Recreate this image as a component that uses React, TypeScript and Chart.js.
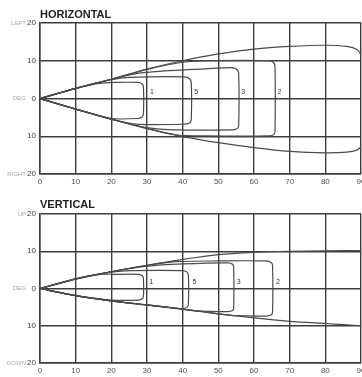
import React, { useEffect, useRef } from "react";
import { Chart, registerables } from "chart.js";

Chart.register(...registerables);

// ---------- data ----------
const X_TICKS = [0, 10, 20, 30, 40, 50, 60, 70, 80, 90];
const Y_TICKS = [-20, -10, 0, 10, 20];
const LOBE_NAMES = ["1", "5", "3", "2"];

const H_PREFIX: Record<string, string> = { "20": "LEFT", "0": "DEG", "-20": "RIGHT" };
const V_PREFIX: Record<string, string> = { "20": "UP", "0": "DEG", "-20": "DOWN" };

// HORIZONTAL panel curves ([deg distance, deg angle])
const H_OUTER_UP = [[0, 0], [10, 2.7], [20, 5.1], [30, 7.8], [40, 10], [50, 11.8], [60, 13.1], [70, 13.8], [80, 14.1], [86, 13.8], [89, 12.9], [90, 11.5]];
const H_OUTER_LO = [[0, 0], [10, -2.8], [20, -5.5], [30, -8], [40, -10.1], [50, -11.7], [60, -13], [70, -14], [80, -14.4], [86, -14.2], [89, -13.6], [90, -12.8]];
const H_LOBE1 = [[0, 0], [10, 2.6], [16, 3.9], [21, 4.25], [27.3, 4.25], [28.6, 3.9], [29, 3], [29, -3.9], [28.6, -4.9], [27.3, -5.3], [20, -5.3], [10, -2.8], [0, 0]];
const H_LOBE5 = [[0, 0], [10, 2.7], [20, 5.0], [25, 5.6], [40.5, 5.75], [41.9, 5.3], [42.4, 4.3], [42.4, -5.6], [41.9, -6.5], [40.5, -6.8], [27, -6.8], [20, -5.4], [10, -2.8], [0, 0]];
const H_LOBE3 = [[0, 0], [10, 2.7], [20, 5.1], [27, 6.6], [35, 7.3], [45, 7.8], [53.8, 8.2], [55.2, 7.7], [55.7, 6.7], [55.7, -7.3], [55.2, -8], [53.8, -8.3], [38, -8.3], [30, -7.7], [20, -5.5], [10, -2.8], [0, 0]];
const H_LOBE2 = [[0, 0], [10, 2.7], [20, 5.1], [30, 7.7], [40, 9.6], [47, 10], [64.3, 10], [65.6, 9.4], [65.9, 8.3], [65.9, -8.6], [65.6, -9.5], [64.3, -9.9], [46, -9.9], [38, -9.6], [30, -7.9], [20, -5.5], [10, -2.8], [0, 0]];
const H_LABEL_X = [31.4, 43.8, 57, 67.1];
const H_LABEL_Y = [1.6, 1.6, 1.6, 1.6];

// VERTICAL panel curves
const V_OUTER_UP = [[0, 0], [10, 2.6], [20, 4.5], [30, 6.2], [40, 7.8], [50, 9.1], [60, 9.7], [70, 10], [80, 10.1], [90, 10.2]];
const V_OUTER_LO = [[0, 0], [10, -1.9], [20, -3.3], [30, -4.4], [40, -5.5], [50, -6.8], [60, -7.9], [70, -8.8], [80, -9.4], [90, -10]];
const V_LOBE1 = [[0, 0], [10, 2.5], [17, 3.8], [21, 3.8], [27.6, 3.8], [28.7, 3.4], [29, 2.7], [29, -2], [28.7, -2.7], [27.6, -3.1], [20, -3.1], [10, -1.9], [0, 0]];
const V_LOBE5 = [[0, 0], [10, 2.6], [20, 4.4], [26, 4.8], [40, 4.8], [41.2, 4.4], [41.6, 3.6], [41.6, -4.3], [41.2, -5.0], [40, -5.4], [30, -4.5], [20, -3.3], [10, -1.9], [0, 0]];
const V_LOBE3 = [[0, 0], [10, 2.6], [20, 4.5], [30, 6], [40, 6.6], [52.8, 6.9], [54, 6.5], [54.3, 5.7], [54.3, -5.3], [54, -5.9], [52.8, -6.2], [45, -6.1], [40, -5.6], [30, -4.4], [20, -3.3], [10, -1.9], [0, 0]];
const V_LOBE2 = [[0, 0], [10, 2.6], [20, 4.5], [30, 6.2], [38, 7.2], [50, 7.4], [63.3, 7.4], [64.8, 7], [65.2, 6.2], [65.2, -6.4], [64.8, -7.1], [63.3, -7.4], [55, -7.3], [50, -6.8], [40, -5.5], [30, -4.4], [20, -3.3], [10, -1.9], [0, 0]];
const V_LABEL_X = [31.2, 43.3, 55.7, 66.7];
const V_LABEL_Y = [1.6, 1.6, 1.6, 1.6];

// ---------- styling ----------
const FONT = '"Liberation Sans", Arial, sans-serif';
const GRID = "#3c3c3c";
const CURVE = "#4a4a4a";

type PanelProps = {
  title: string;
  curves: number[][][];
  labelX: number[];
  labelY: number[];
  prefixes: Record<string, string>;
  width: number;
  height: number;
  padTop: number;
  titleY: number;
};

function Panel({ title, curves, labelX, labelY, prefixes, width, height, padTop, titleY }: PanelProps) {
  const ref = useRef<HTMLCanvasElement | null>(null);

  useEffect(() => {
    if (!ref.current) return;
    const overlay = {
      id: "overlay",
      afterDraw(chart: any) {
        const { ctx } = chart;
        const xs = chart.scales.x;
        const ys = chart.scales.y;
        ctx.save();
        ctx.fillStyle = "#1e1e1e";
        ctx.font = `bold 11px ${FONT}`;
        ctx.textAlign = "left";
        ctx.textBaseline = "alphabetic";
        ctx.fillText(title, 40, titleY);

        ctx.font = `6px ${FONT}`;
        ctx.fillStyle = "#a8a8a8";
        ctx.textAlign = "right";
        ctx.textBaseline = "middle";
        Object.keys(prefixes).forEach((k) => {
          ctx.fillText(prefixes[k], 26, ys.getPixelForValue(Number(k)));
        });

        ctx.font = `7px ${FONT}`;
        ctx.fillStyle = "#333";
        ctx.textAlign = "center";
        ctx.textBaseline = "middle";
        LOBE_NAMES.forEach((n, i) => {
          ctx.fillText(n, xs.getPixelForValue(labelX[i]), ys.getPixelForValue(labelY[i]));
        });
        ctx.restore();
      },
    };

    const chart = new Chart(ref.current, {
      type: "scatter",
      data: {
        datasets: curves.map((c) => ({
          data: c.map((p) => ({ x: p[0], y: p[1] })),
          showLine: true,
          borderColor: CURVE,
          borderWidth: 1.2,
          pointRadius: 0,
          tension: 0.25,
          fill: false,
        })),
      },
      options: {
        responsive: false,
        animation: false,
        devicePixelRatio: 1,
        layout: { padding: { top: padTop, right: 1, left: 0, bottom: 0 } },
        plugins: { legend: { display: false }, tooltip: { enabled: false }, title: { display: false } },
        scales: {
          x: {
            type: "linear",
            min: 0,
            max: 90,
            afterBuildTicks: (s: any) => {
              s.ticks = X_TICKS.map((v) => ({ value: v }));
            },
            afterFit: (s: any) => {
              s.height = 14;
              s.paddingLeft = 0;
              s.paddingRight = 0;
            },
            ticks: { color: "#505050", font: { size: 8, family: FONT }, padding: 3, maxRotation: 0, autoSkip: false },
            grid: { color: GRID, lineWidth: 1.4, drawTicks: false },
            border: { color: GRID, width: 1.5 },
          },
          y: {
            type: "linear",
            min: -20,
            max: 20,
            afterBuildTicks: (s: any) => {
              s.ticks = Y_TICKS.map((v) => ({ value: v }));
            },
            afterFit: (s: any) => {
              s.width = 40;
              s.paddingTop = 0;
              s.paddingBottom = 0;
            },
            ticks: {
              color: "#404040",
              font: { size: 8, family: FONT },
              padding: 4,
              autoSkip: false,
              callback: (v: any) => String(Math.abs(Number(v))),
            },
            grid: { color: GRID, lineWidth: 1.4, drawTicks: false },
            border: { color: GRID, width: 1.5 },
          },
        },
      },
      plugins: [overlay],
    } as any);
    return () => chart.destroy();
  }, []);

  return <canvas ref={ref} width={width} height={height} style={{ display: "block", width, height }} />;
}

export default function App() {
  return (
    <div style={{ position: "fixed", left: 0, top: 0, width: 362, height: 377, background: "#fff" }}>
      <Panel
        title="HORIZONTAL"
        curves={[H_OUTER_UP, H_OUTER_LO, H_LOBE1, H_LOBE5, H_LOBE3, H_LOBE2]}
        labelX={H_LABEL_X}
        labelY={H_LABEL_Y}
        prefixes={H_PREFIX}
        width={362}
        height={188}
        padTop={23}
        titleY={18}
      />
      <Panel
        title="VERTICAL"
        curves={[V_OUTER_UP, V_OUTER_LO, V_LOBE1, V_LOBE5, V_LOBE3, V_LOBE2]}
        labelX={V_LABEL_X}
        labelY={V_LABEL_Y}
        prefixes={V_PREFIX}
        width={362}
        height={189}
        padTop={26}
        titleY={20}
      />
    </div>
  );
}
